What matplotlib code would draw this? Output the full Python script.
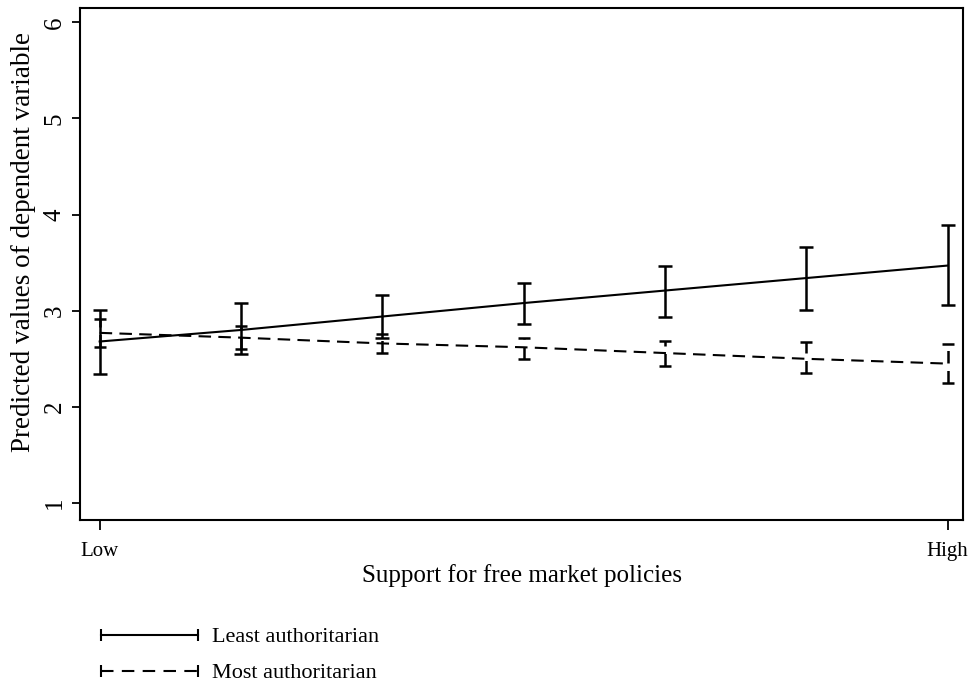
import matplotlib.pyplot as plt
from matplotlib.lines import Line2D

plt.rcParams['font.family'] = ['Liberation Serif', 'DejaVu Serif']

x = [0, 1, 2, 3, 4, 5, 6]
x_labels = ["Low", "High"]

least = [2.68, 2.80, 2.94, 3.08, 3.21, 3.34, 3.47]
least_lo = [2.34, 2.55, 2.72, 2.86, 2.94, 3.01, 3.06]
least_hi = [3.01, 3.08, 3.16, 3.29, 3.47, 3.66, 3.89]

most = [2.77, 2.72, 2.66, 2.62, 2.56, 2.50, 2.45]
most_lo = [2.62, 2.60, 2.56, 2.50, 2.43, 2.35, 2.25]
most_hi = [2.91, 2.84, 2.76, 2.72, 2.69, 2.67, 2.65]

fig = plt.figure(figsize=(9.74, 6.87), dpi=100)
ax = fig.add_axes([0.082, 0.243, 0.907, 0.745])

err1 = [[m - l for m, l in zip(least, least_lo)], [h - m for m, h in zip(least, least_hi)]]
err2 = [[m - l for m, l in zip(most, most_lo)], [h - m for m, h in zip(most, most_hi)]]

ax.errorbar(x, least, yerr=err1, color="black", lw=1.5, elinewidth=1.8,
            capsize=5, capthick=1.8)
eb = ax.errorbar(x, most, yerr=err2, color="black", lw=1.5, elinewidth=1.8,
                 capsize=4, capthick=1.8, dashes=(6, 3.5))
eb[2][0].set_linestyle((0, (5, 3)))

ax.set_xlim(-0.14, 6.11)
ax.set_ylim(0.823, 6.146)
ax.set_xticks([0, 6])
ax.set_xticklabels(x_labels, fontsize=15)
ax.set_yticks([1, 2, 3, 4, 5, 6])
ax.set_yticklabels(["1", "2", "3", "4", "5", "6"], fontsize=18, rotation=90, va="center")
ax.tick_params(axis="y", length=6, width=1.3, direction="out", pad=4)
ax.tick_params(axis="x", length=7, width=1.3, direction="out", pad=9)
for s in ax.spines.values():
    s.set_linewidth(1.5)

ax.set_xlabel("Support for free market policies", fontsize=18, labelpad=2)
ax.set_ylabel("Predicted values of dependent variable", fontsize=19.5)
ax.yaxis.set_label_coords(-0.05, 0.543)

h1 = Line2D([], [], color="black", lw=1.5, marker="|", markersize=9, mew=1.5)
h2 = Line2D([], [], color="black", lw=1.5, ls=(0, (6, 4)), marker="|", markersize=9, mew=1.5)
fig.legend([h1, h2], ["Least authoritarian", "Most authoritarian"],
           loc="lower left", bbox_to_anchor=(0.076, -0.024), frameon=False,
           fontsize=16, numpoints=2, handlelength=5.0, handletextpad=0.3,
           labelspacing=0.7)

fig.savefig("out.png", dpi=100)
